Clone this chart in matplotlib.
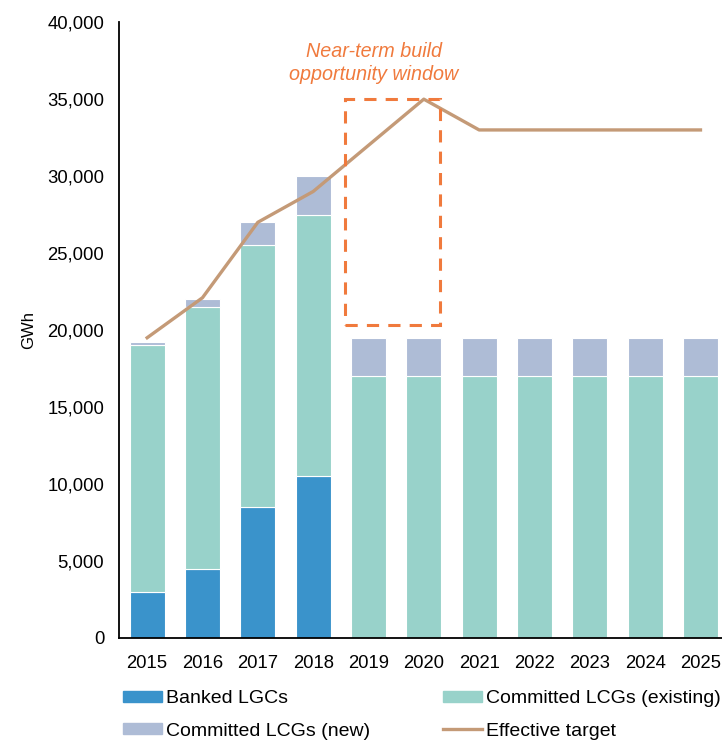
import matplotlib
matplotlib.use("Agg")
import matplotlib.pyplot as plt
from matplotlib.patches import Rectangle, Patch
from matplotlib.lines import Line2D
from matplotlib.ticker import FuncFormatter
import numpy as np

plt.rcParams['font.family'] = ['Liberation Sans', 'DejaVu Sans']

years = ['2015', '2016', '2017', '2018', '2019', '2020', '2021', '2022', '2023', '2024', '2025']
banked = [3000, 4500, 8500, 10500, 0, 0, 0, 0, 0, 0, 0]
existing = [16000, 17000, 17000, 17000, 17000, 17000, 17000, 17000, 17000, 17000, 17000]
new = [250, 500, 1500, 2500, 2500, 2500, 2500, 2500, 2500, 2500, 2500]
target = [19500, 22100, 27000, 29000, 32000, 35000, 33000, 33000, 33000, 33000, 33000]

c_banked = '#3A93CB'
c_exist = '#98D2CA'
c_new = '#AEBCD6'
c_target = '#C49A77'
c_orange = '#F07A3D'

fig = plt.figure(figsize=(7.22, 7.40), dpi=100)
ax = fig.add_axes([0.1655, 0.138, 0.843, 0.832])

x = np.arange(len(years))
w = 0.63
b = np.array(banked)
e = np.array(existing)
n = np.array(new)
ax.bar(x, b, w, color=c_banked, edgecolor='white', linewidth=0.8, zorder=2)
ax.bar(x, e, w, bottom=b, color=c_exist, edgecolor='white', linewidth=0.8, zorder=2)
ax.bar(x, n, w, bottom=b + e, color=c_new, edgecolor='white', linewidth=0.8, zorder=2)
ax.plot(x, target, color=c_target, lw=2.4, zorder=3)

# opportunity window box
rect = Rectangle((3.575, 20300), 5.29 - 3.575, 35000 - 20300, fill=False,
                 edgecolor=c_orange, lw=2.2, linestyle=(0, (4, 3)), zorder=4)
ax.add_patch(rect)
ax.text(4.1, 37350, 'Near-term build\nopportunity window', color=c_orange,
        fontsize=14.2, style='italic', ha='center', va='center', linespacing=1.3)

ax.set_xlim(-0.5, 10.5)
ax.set_ylim(0, 40000)
ax.set_yticks(np.arange(0, 40001, 5000))
ax.yaxis.set_major_formatter(FuncFormatter(lambda v, p: f'{int(v):,}'))
ax.set_xticks(x)
ax.set_xticklabels(years)
ax.tick_params(axis='both', length=0)
ax.tick_params(axis='x', pad=12, labelsize=13.3)
ax.tick_params(axis='y', pad=11, labelsize=13.3)
for s in ['top', 'right']:
    ax.spines[s].set_visible(False)
for s in ['left', 'bottom']:
    ax.spines[s].set_color('black')
    ax.spines[s].set_linewidth(1.3)
ax.set_ylabel('GWh', fontsize=12, labelpad=8)

handles = [Patch(color=c_banked), Patch(color=c_new), Patch(color=c_exist),
           Line2D([], [], color=c_target, lw=2.4)]
labels = ['Banked LGCs', 'Committed LCGs (new)', 'Committed LCGs (existing)', 'Effective target']
fig.legend(handles, labels, ncol=2, loc='lower left', bbox_to_anchor=(0.146, -0.023),
           frameon=False, fontsize=14, handlelength=2.0, handleheight=0.5,
           handletextpad=0.2, columnspacing=3.75, labelspacing=0.8)

fig.savefig('out.png', dpi=100)
